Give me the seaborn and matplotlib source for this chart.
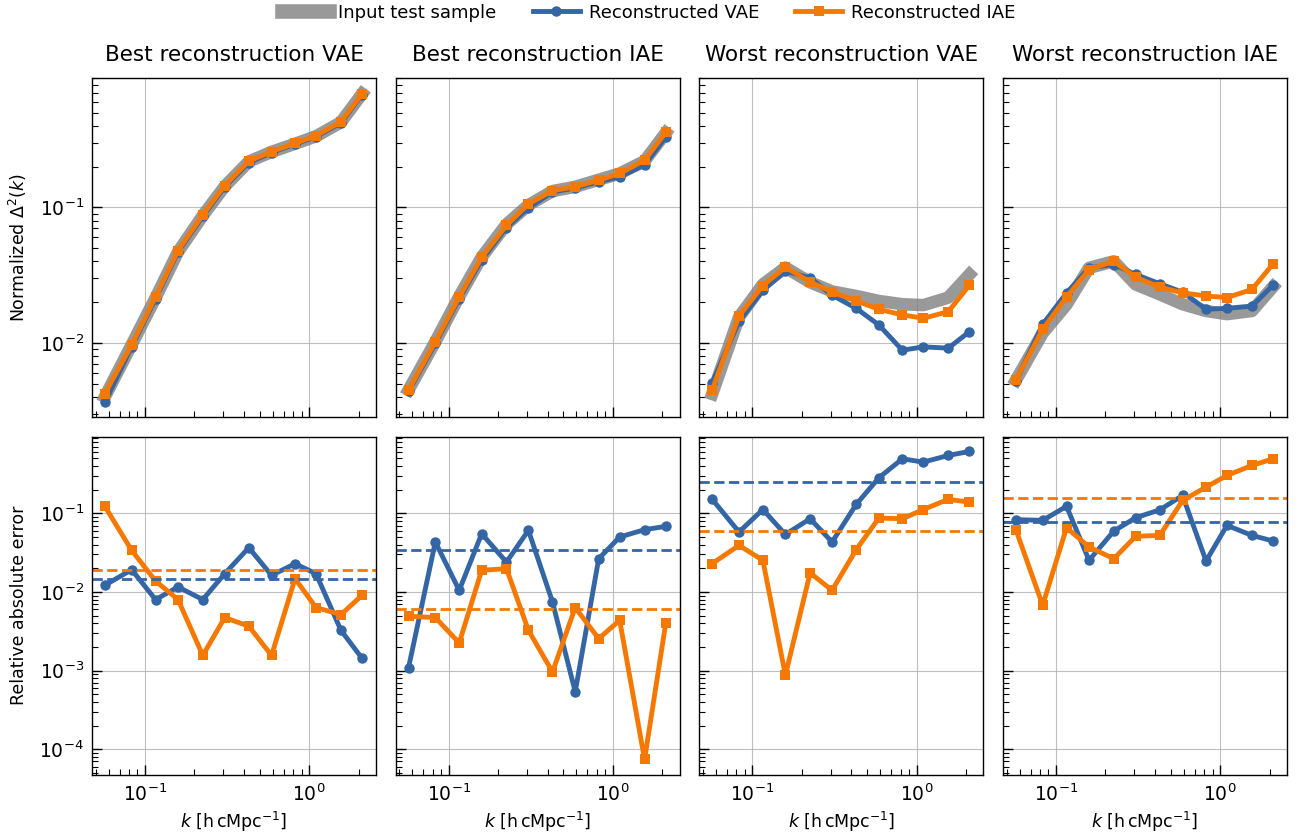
import numpy as np
import matplotlib
matplotlib.use("Agg")
import matplotlib.pyplot as plt
import seaborn as sns
from matplotlib.lines import Line2D

# k values shared by every panel [h cMpc^-1]
k_values = [0.057, 0.083, 0.116, 0.159, 0.225, 0.306, 0.429, 0.59, 0.82, 1.10, 1.56, 2.10]

panel_titles = [
    "Best reconstruction VAE",
    "Best reconstruction IAE",
    "Worst reconstruction VAE",
    "Worst reconstruction IAE",
]

# normalized power spectra (top row)
input_spectra = [
    [0.0040, 0.0097, 0.0215, 0.047, 0.087, 0.143, 0.218, 0.257, 0.295, 0.335, 0.425, 0.69],
    [0.0045, 0.0102, 0.0220, 0.043, 0.075, 0.104, 0.132, 0.142, 0.160, 0.178, 0.220, 0.355],
    [0.0042, 0.0155, 0.0270, 0.036, 0.028, 0.024, 0.0222, 0.0204, 0.0193, 0.0190, 0.0216, 0.0320],
    [0.0053, 0.0118, 0.0192, 0.0358, 0.0400, 0.0270, 0.0228, 0.0193, 0.0172, 0.0163, 0.0172, 0.0260],
]
vae_spectra = [
    [0.00364, 0.0094, 0.0212, 0.047, 0.086, 0.142, 0.214, 0.254, 0.293, 0.333, 0.420, 0.68],
    [0.0044, 0.0099, 0.0212, 0.041, 0.071, 0.099, 0.130, 0.139, 0.155, 0.168, 0.206, 0.330],
    [0.0051, 0.0144, 0.0244, 0.0338, 0.0302, 0.0225, 0.0180, 0.01356, 0.00883, 0.00935, 0.00915, 0.0121],
    [0.0052, 0.0137, 0.0234, 0.0358, 0.0379, 0.0320, 0.0273, 0.0237, 0.0177, 0.0180, 0.0187, 0.0267],
]
iae_spectra = [
    [0.00423, 0.00966, 0.0218, 0.048, 0.0883, 0.145, 0.220, 0.258, 0.297, 0.338, 0.428, 0.689],
    [0.00449, 0.0102, 0.0218, 0.0428, 0.0738, 0.106, 0.133, 0.142, 0.159, 0.178, 0.223, 0.358],
    [0.00449, 0.0158, 0.0265, 0.0362, 0.0282, 0.0238, 0.0204, 0.0177, 0.0161, 0.0152, 0.0170, 0.0267],
    [0.00532, 0.0126, 0.0218, 0.0348, 0.0401, 0.0305, 0.0258, 0.0234, 0.0222, 0.0216, 0.0248, 0.0383],
]

# relative absolute errors (bottom row)
vae_errors = [
    [0.0122, 0.0192, 0.0080, 0.0116, 0.0080, 0.0171, 0.0366, 0.0163, 0.0229, 0.0171, 0.00326, 0.00143],
    [0.00109, 0.0432, 0.0105, 0.0552, 0.0240, 0.0608, 0.00747, 0.000537, 0.0265, 0.0500, 0.0621, 0.0684],
    [0.151, 0.058, 0.112, 0.054, 0.0855, 0.0432, 0.130, 0.284, 0.495, 0.449, 0.546, 0.614],
    [0.0832, 0.0815, 0.123, 0.0253, 0.0596, 0.0882, 0.111, 0.169, 0.0248, 0.0704, 0.0525, 0.0445],
]
iae_errors = [
    [0.123, 0.0339, 0.0138, 0.0080, 0.00156, 0.00473, 0.00367, 0.00156, 0.0148, 0.00634, 0.00516, 0.00908],
    [0.00491, 0.00473, 0.00225, 0.0189, 0.0198, 0.00326, 0.00096, 0.00634, 0.00255, 0.00437, 0.0000741, 0.00403],
    [0.0230, 0.0392, 0.0253, 0.000875, 0.0175, 0.0105, 0.0345, 0.0873, 0.0855, 0.112, 0.151, 0.139],
    [0.0621, 0.00678, 0.0658, 0.0374, 0.0265, 0.0511, 0.0525, 0.146, 0.216, 0.304, 0.407, 0.495],
]

VAE_COLOR = "#3465a4"
IAE_COLOR = "#f57900"
INPUT_COLOR = "grey"

sns.set_style("white", {
    "text.color": "black", "axes.labelcolor": "black",
    "xtick.color": "black", "ytick.color": "black",
    "axes.edgecolor": "black",
    "xtick.bottom": True, "ytick.left": True,
    "xtick.direction": "in", "ytick.direction": "in",
})
plt.rcParams["font.family"] = ["DejaVu Sans"]
plt.rcParams["mathtext.fontset"] = "dejavusans"
plt.rcParams["lines.solid_capstyle"] = "projecting"

fig, axes = plt.subplots(2, 4, figsize=(12.98, 8.4), dpi=100, sharex=True, sharey="row")
fig.subplots_adjust(left=0.071, right=0.9915, top=0.907, bottom=0.0774,
                    wspace=0.07, hspace=0.059)

line_kw = dict(lw=3.5, markersize=7.5, markeredgewidth=0)

for col in range(4):
    ax_top = axes[0, col]
    ax_bot = axes[1, col]

    sns.lineplot(x=k_values, y=input_spectra[col], ax=ax_top, color=INPUT_COLOR,
                 lw=9, alpha=0.8, sort=False, solid_capstyle="projecting")
    sns.lineplot(x=k_values, y=vae_spectra[col], ax=ax_top, color=VAE_COLOR,
                 marker="o", sort=False, **line_kw)
    sns.lineplot(x=k_values, y=iae_spectra[col], ax=ax_top, color=IAE_COLOR,
                 marker="s", sort=False, **line_kw)
    ax_top.set_title(panel_titles[col], fontsize=15.5, pad=12)

    sns.lineplot(x=k_values, y=vae_errors[col], ax=ax_bot, color=VAE_COLOR,
                 marker="o", sort=False, **line_kw)
    sns.lineplot(x=k_values, y=iae_errors[col], ax=ax_bot, color=IAE_COLOR,
                 marker="s", sort=False, **line_kw)
    # dashed lines: mean error of each model
    ax_bot.axhline(np.mean(vae_errors[col]), color=VAE_COLOR, ls="--", lw=2)
    ax_bot.axhline(np.mean(iae_errors[col]), color=IAE_COLOR, ls="--", lw=2)
    ax_bot.set_xlabel(r"$k$ [$\mathrm{h\,cMpc^{-1}}$]", fontsize=12.5)

for ax in axes.flat:
    ax.set_xscale("log")
    ax.set_yscale("log")
    ax.grid(True, which="major", color="#b0b0b0", lw=0.8, alpha=0.8)
    ax.tick_params(which="both", direction="in", top=False, right=False,
                   bottom=True, left=True, labelsize=13.5, pad=6)
    ax.tick_params(which="major", length=7, width=1)
    ax.tick_params(which="minor", length=4, width=0.8)
    for spine in ax.spines.values():
        spine.set_color("black")
        spine.set_linewidth(1.0)
    ax.set_ylabel("")

axes[0, 0].set_xlim(0.0477, 2.55)
axes[0, 0].set_ylim(0.00286, 0.90)
axes[1, 0].set_ylim(4.7e-5, 0.95)
axes[0, 0].set_ylabel(r"Normalized $\Delta^2(k)$", fontsize=12.5, labelpad=8)
axes[1, 0].set_ylabel("Relative absolute error", fontsize=12.5, labelpad=8)

handles = [
    Line2D([], [], color=INPUT_COLOR, lw=10.5, alpha=0.8, solid_capstyle="projecting"),
    Line2D([], [], color=VAE_COLOR, marker="o", **line_kw),
    Line2D([], [], color=IAE_COLOR, marker="s", **line_kw),
]
fig.legend(handles, ["Input test sample", "Reconstructed VAE", "Reconstructed IAE"],
           loc="upper center", bbox_to_anchor=(0.5, 1.015), ncol=3, frameon=False,
           fontsize=13, handlelength=2.6, handletextpad=0.5, columnspacing=2.0)

fig.savefig("out.png", dpi=100)
